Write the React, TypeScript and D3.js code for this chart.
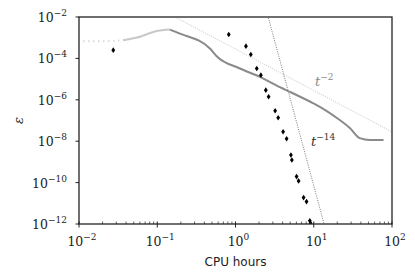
import React from "react";
import * as d3 from "d3";

// solver convergence curve (gray)
const curveCpu = [0.01125, 0.01853, 0.0365, 0.0551, 0.0991, 0.145, 0.195, 0.471, 0.574, 1.138, 2.05, 3.69, 4.95, 9.75, 11.97, 21.5, 28.9, 38.8, 52.0, 78.0];
const curveEps = [6.75e-4, 6.75e-4, 7.53e-4, 1.02e-3, 2.11e-3, 2.47e-3, 1.58e-3, 3.0e-4, 1.28e-4, 3.26e-5, 1.28e-5, 4.09e-6, 2.43e-6, 6.93e-7, 4.6e-7, 1.05e-7, 4.37e-8, 1.41e-8, 1.15e-8, 1.15e-8];
const dottedEnd = 2; // index where dotted part ends
const peakIdx = 5;

// diamond markers
const pointCpu = [0.0274, 0.82, 1.36, 1.57, 1.87, 2.11, 2.44, 2.65, 3.21, 3.51, 4.06, 4.5, 5.11, 5.25, 6.03, 6.4, 7.41, 8.09, 8.91, 9.1];
const pointEps = [2.5e-4, 1.42e-3, 3.9e-4, 1.54e-4, 3.26e-5, 1.55e-5, 2.93e-6, 1.4e-6, 2.95e-7, 1.36e-7, 2.87e-8, 1.32e-8, 2.16e-9, 1.24e-9, 1.95e-10, 1.21e-10, 1.89e-11, 1.21e-11, 1.43e-12, 1.1e-12];

// reference slopes
const slopeOrders = [2, 14];
const slopeCoeffs = [2.83e-4, 7080];

const xTickExps = [-2, -1, 0, 1, 2];
const yTickExps = [-2, -4, -6, -8, -10, -12];

const W = 415;
const H = 280;
const margin = { left: 79, right: 23, top: 17, bottom: 56 };
const serif = "'DejaVu Serif', serif";

function Pow10({ exp, x, y, anchor }: { exp: number; x: number; y: number; anchor: string }) {
  return (
    <text x={x} y={y} textAnchor={anchor} fontFamily={serif} fontSize={12.5} fill="#222">
      10
      <tspan dy={-6} fontSize={9}>
        {exp < 0 ? "\u2212" + Math.abs(exp) : String(exp)}
      </tspan>
    </text>
  );
}

export default function App() {
  const x = d3.scaleLog().domain([1e-2, 1e2]).range([margin.left, W - margin.right]);
  const y = d3.scaleLog().domain([1e-12, 1e-2]).range([H - margin.bottom, margin.top]);

  const line = d3
    .line<number>()
    .x((i) => x(curveCpu[i]))
    .y((i) => y(curveEps[i]))
    .curve(d3.curveMonotoneX);

  const idx = curveCpu.map((_, i) => i);
  const dotted = line(idx.slice(0, dottedEnd + 1));
  const light = line(idx.slice(dottedEnd, peakIdx + 1));
  const dark = line(idx.slice(peakIdx));

  const minorTicks: number[] = [];
  for (let e = -2; e < 2; e++) {
    for (let k = 2; k < 10; k++) minorTicks.push(k * Math.pow(10, e));
  }

  const slopeLine = (j: number) => {
    const xs = x.domain();
    return `M${x(xs[0])},${y(slopeCoeffs[j] * Math.pow(xs[0], -slopeOrders[j]))}L${x(xs[1])},${y(
      slopeCoeffs[j] * Math.pow(xs[1], -slopeOrders[j])
    )}`;
  };

  const [x0, x1] = x.range();
  const [yb, yt] = y.range();

  return (
    <svg width={W} height={H} style={{ position: "absolute", left: 0, top: 0, background: "#fff" }}>
      <defs>
        <clipPath id="plot">
          <rect x={x0} y={yt} width={x1 - x0} height={yb - yt} />
        </clipPath>
      </defs>

      <g clipPath="url(#plot)">
        <path d={slopeLine(0)} stroke="#b5b5b5" strokeWidth={0.8} strokeDasharray="1,1.3" fill="none" />
        <path d={slopeLine(1)} stroke="#555" strokeWidth={0.8} strokeDasharray="1,1.3" fill="none" />

        <path d={dotted || ""} stroke="#dadada" strokeWidth={1.8} strokeDasharray="1.5,3.5" fill="none" />
        <path d={light || ""} stroke="#c8c8c8" strokeWidth={2} fill="none" />
        <path d={dark || ""} stroke="#8a8a8a" strokeWidth={2} fill="none" />

        {pointCpu.map((c, i) => {
          const px = x(c);
          const py = y(pointEps[i]);
          return (
            <path
              key={i}
              d={`M${px},${py - 2.8}L${px + 1.9},${py}L${px},${py + 2.8}L${px - 1.9},${py}Z`}
              fill="#000"
            />
          );
        })}
      </g>

      {/* axes box */}
      <rect x={x0} y={yt} width={x1 - x0} height={yb - yt} fill="none" stroke="#222" strokeWidth={1.3} />

      {/* x ticks */}
      {xTickExps.map((e) => (
        <g key={e}>
          <line x1={x(Math.pow(10, e))} x2={x(Math.pow(10, e))} y1={yb - 2.5} y2={yb + 3.5} stroke="#222" strokeWidth={1} />
          <Pow10 exp={e} x={x(Math.pow(10, e)) + 3} y={yb + 22} anchor="middle" />
        </g>
      ))}
      {minorTicks.map((t, i) => (
        <line key={i} x1={x(t)} x2={x(t)} y1={yb - 2.5} y2={yb} stroke="#222" strokeWidth={0.7} />
      ))}

      {/* y ticks */}
      {yTickExps.map((e) => (
        <g key={e}>
          <line x1={x0 - 3.5} x2={x0} y1={y(Math.pow(10, e))} y2={y(Math.pow(10, e))} stroke="#222" strokeWidth={1} />
          <Pow10 exp={e} x={x0 - 12} y={y(Math.pow(10, e)) + 5} anchor="end" />
        </g>
      ))}

      {/* slope labels */}
      <text x={315} y={86} fontFamily={serif} fontStyle="italic" fontSize={13} fill="#888">
        t<tspan dy={-6} fontSize={9} fontStyle="normal">{"\u22122"}</tspan>
      </text>
      <text x={311} y={146} fontFamily={serif} fontStyle="italic" fontSize={13} fill="#333">
        t<tspan dy={-6} fontSize={9} fontStyle="normal">{"\u221214"}</tspan>
      </text>

      {/* axis labels */}
      <text
        x={(x0 + x1) / 2}
        y={266}
        textAnchor="middle"
        fontFamily="'DejaVu Sans', sans-serif"
        fontSize={12}
        fill="#222"
      >
        CPU hours
      </text>
      <text
        transform={`translate(23,${(yt + yb) / 2}) rotate(-90)`}
        textAnchor="middle"
        fontFamily={serif}
        fontStyle="italic"
        fontSize={13}
        fill="#222"
      >
        ε
      </text>
    </svg>
  );
}
